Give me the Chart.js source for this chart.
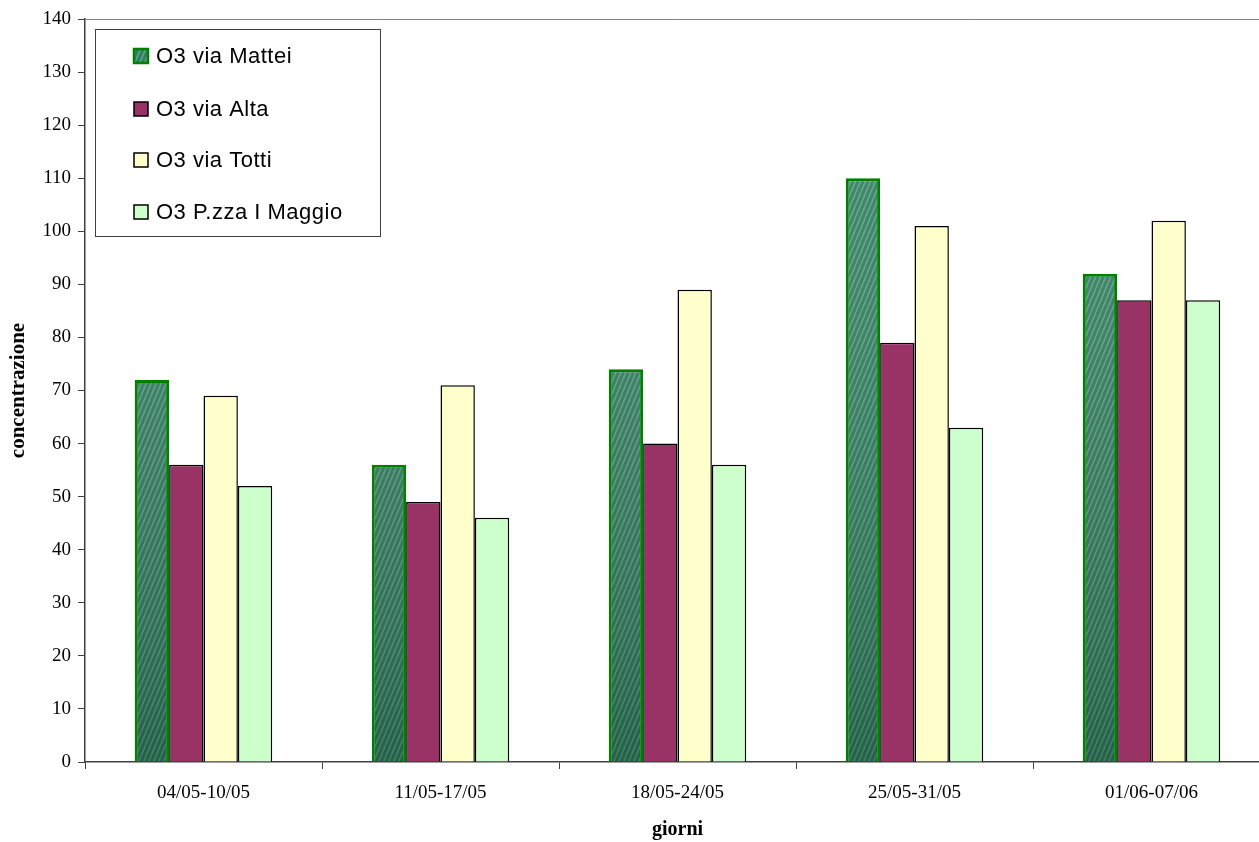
<!DOCTYPE html>
<html>
<head>
<meta charset="utf-8">
<script src="https://cdn.jsdelivr.net/npm/chart.js@4/dist/chart.umd.min.js"></script>
<style>
  html, body { margin: 0; padding: 0; background: #fff; overflow: hidden; }
  #wrap { position: relative; width: 1272px; height: 842px; }
</style>
</head>
<body>
<div id="wrap"><canvas id="c"></canvas></div>
<script>
// Weekly O3 concentrations per monitoring station
const weeks = ['04/05-10/05', '11/05-17/05', '18/05-24/05', '25/05-31/05', '01/06-07/06'];
const viaMattei = [72, 56, 74, 110, 92];
const viaAlta = [56, 49, 60, 79, 87];
const viaTotti = [69, 71, 89, 101, 102];
const pzzaMaggio = [52, 46, 56, 63, 87];
const seriesNames = ['O3 via Mattei', 'O3 via Alta', 'O3 via Totti', 'O3 P.zza I Maggio'];

// textured green fill for the via Mattei bars
function stripePattern() {
  const t = document.createElement('canvas');
  t.width = 5; t.height = 12;
  const g = t.getContext('2d');
  g.fillStyle = '#367d62';
  g.fillRect(0, 0, 5, 12);
  g.strokeStyle = '#5aac88';
  g.lineWidth = 1.4;
  for (let k = -2; k < 3; k++) {
    g.beginPath();
    g.moveTo(k * 5 + 1, 12);
    g.lineTo(k * 5 + 6, 0);
    g.stroke();
  }
  return g.createPattern(t, 'repeat');
}
const ctx = document.getElementById('c').getContext('2d');
const matteiFill = stripePattern();

// darker shading towards the base of the textured bars
const barShade = {
  id: 'barShade',
  afterDatasetDraw(chart, args) {
    if (args.index !== 0) return;
    const c = chart.ctx, a = chart.chartArea;
    const grad = c.createLinearGradient(0, a.top, 0, a.bottom);
    grad.addColorStop(0, 'rgba(255,255,255,0.05)');
    grad.addColorStop(1, 'rgba(0,20,10,0.28)');
    c.save();
    args.meta.data.forEach(bar => {
      const p = bar.getProps(['x', 'y', 'base', 'width'], true);
      c.fillStyle = grad;
      c.fillRect(p.x - p.width / 2 + 3, p.y + 3, p.width - 6, p.base - p.y - 3);
    });
    c.restore();
  }
};

const boxLegend = {
  id: 'boxLegend',
  afterDraw(chart) {
    const c = chart.ctx;
    c.save();
    c.fillStyle = '#fff';
    c.fillRect(95.5, 29.5, 285, 207);
    c.strokeStyle = '#404040';
    c.lineWidth = 1;
    c.strokeRect(95.5, 29.5, 285, 207);
    const ys = [56, 109, 160, 212];
    chart.data.datasets.forEach((ds, i) => {
      const y = ys[i];
      c.fillStyle = ds.backgroundColor;
      c.fillRect(134, y - 7, 14, 14);
      c.strokeStyle = ds.borderColor;
      c.lineWidth = i === 0 ? 2.5 : 1.5;
      c.strokeRect(134, y - 7, 14, 14);
      c.fillStyle = '#000';
      c.font = '22px "Liberation Sans", Arial, sans-serif';
      c.letterSpacing = '0.5px';
      c.textBaseline = 'middle';
      c.textAlign = 'left';
      c.fillText(ds.label, 156, y + 1);
    });
    c.restore();
  }
};

const topLine = {
  id: 'topLine',
  beforeDatasetsDraw(chart) {
    const a = chart.chartArea, c = chart.ctx;
    c.save();
    c.strokeStyle = '#808080';
    c.lineWidth = 1;
    c.beginPath();
    c.moveTo(a.left, a.top + 0.5);
    c.lineTo(a.right, a.top + 0.5);
    c.stroke();
    c.restore();
  }
};

const serif = '"Liberation Serif", "Times New Roman", serif';

new Chart(ctx, {
  type: 'bar',
  data: {
    labels: weeks,
    datasets: [
      { label: seriesNames[0], data: viaMattei, backgroundColor: matteiFill, borderColor: '#008000', borderWidth: 3 },
      { label: seriesNames[1], data: viaAlta, backgroundColor: '#993366', borderColor: '#000', borderWidth: 1.5 },
      { label: seriesNames[2], data: viaTotti, backgroundColor: '#ffffcc', borderColor: '#000', borderWidth: 1.5 },
      { label: seriesNames[3], data: pzzaMaggio, backgroundColor: '#ccffcc', borderColor: '#000', borderWidth: 1.5 }
    ]
  },
  options: {
    responsive: true,
    maintainAspectRatio: false,
    animation: false,
    layout: { padding: { top: 19, right: 2, left: 0, bottom: 0 } },
    categoryPercentage: 0.58,
    barPercentage: 1.0,
    plugins: { legend: { display: false }, tooltip: { enabled: false } },
    scales: {
      x: {
        offset: true,
        grid: { display: true, offset: true, drawOnChartArea: false, tickLength: 7, color: '#404040', lineWidth: 1 },
        border: { display: true, color: '#404040', width: 1.5 },
        ticks: { color: '#000', font: { family: serif, size: 19 }, padding: 13, maxRotation: 0 },
        title: { display: true, text: 'giorni', color: '#000', font: { family: serif, size: 20, weight: 'bold' }, padding: { top: 14, bottom: 0 } },
        afterFit(s) { s.height = 80; }
      },
      y: {
        min: 0, max: 140,
        ticks: { stepSize: 10, color: '#000', font: { family: serif, size: 19 }, padding: 7 },
        grid: { display: true, drawOnChartArea: false, tickLength: 7, color: '#404040', lineWidth: 1 },
        border: { display: true, color: '#404040', width: 1.5 },
        title: { display: true, text: 'concentrazione', color: '#000', font: { family: serif, size: 21, weight: 'bold' }, padding: { top: 6, bottom: 0 } },
        afterFit(s) { s.width = 85; }
      }
    }
  },
  plugins: [topLine, barShade, boxLegend]
});
</script>
</body>
</html>
